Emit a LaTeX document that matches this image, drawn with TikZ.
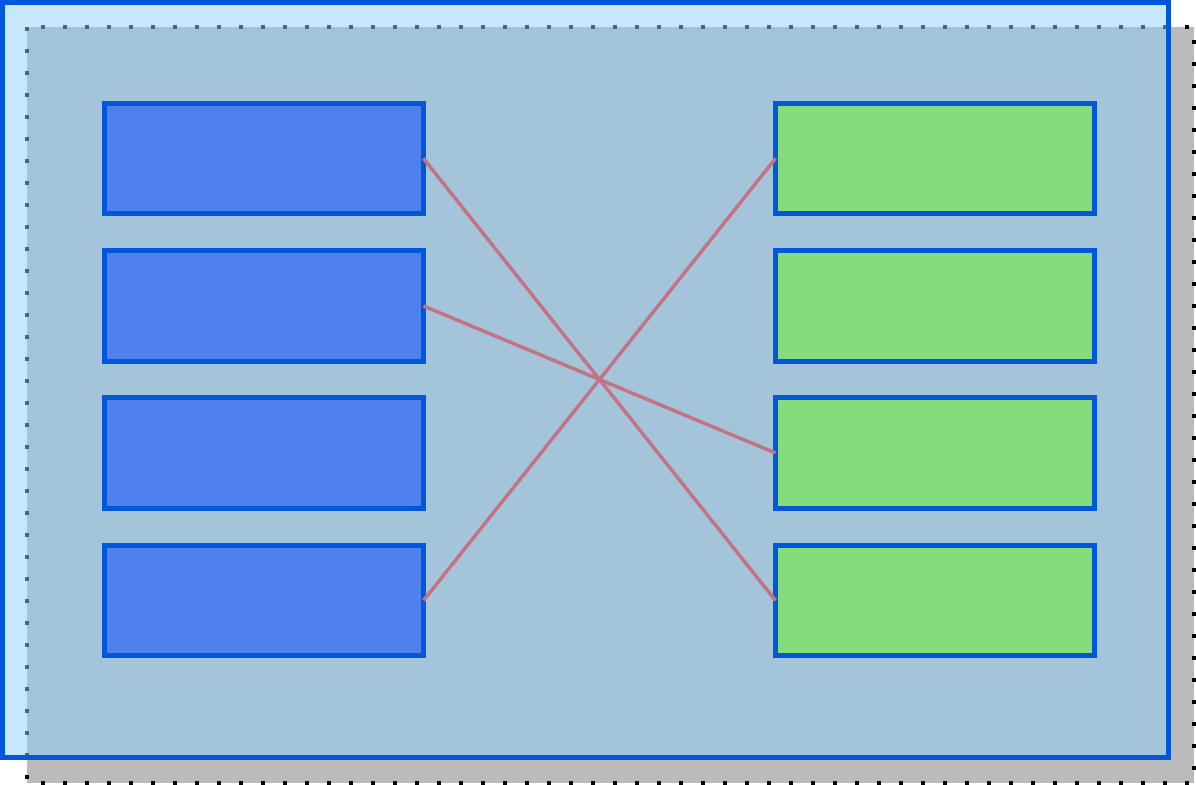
\documentclass[tikz,border=0pt]{standalone}
\usepackage{xcolor}
\usepackage{tikz}

\definecolor{frameblue}{RGB}{0,87,217}
\definecolor{boxblue}{RGB}{80,128,238}
\definecolor{boxgreen}{RGB}{133,220,123}
\definecolor{linkred}{RGB}{196,114,134}
\definecolor{shadowgrey}{RGB}{187,187,187}
\definecolor{paneblue}{RGB}{143,207,247}

\tikzset{
    srcbox/.style={draw=frameblue, fill=boxblue, line width=1mm, minimum width=63.8mm, minimum height=22mm, inner sep=0pt, outer sep=0pt},
    dstbox/.style={srcbox, fill=boxgreen},
    link/.style={draw=linkred, line width=0.7mm}
}

\begin{document}
\begin{tikzpicture}[x=0.2mm,y=-0.2mm]
            \useasboundingbox (0,0) rectangle (1196,785);
            % Shadow
            \filldraw[fill=shadowgrey, draw=black, line width=0.8mm, dash pattern=on 0.8mm off 3.6mm] (27,27) rectangle (1194,783);
            % Pane
            \filldraw[fill=paneblue, fill opacity=0.5, draw=frameblue, line width=1mm] (2.5,2.5) rectangle (1168,757);
            % Left boxes
            \node[srcbox] (l1) at (264,158.5) {};
            \node[srcbox] (l2) at (264,306) {};
            \node[srcbox] (l3) at (264,453) {};
            \node[srcbox] (l4) at (264,600.5) {};
            % Right boxes
            \node[dstbox] (r1) at (935,158.5) {};
            \node[dstbox] (r2) at (935,306) {};
            \node[dstbox] (r3) at (935,453) {};
            \node[dstbox] (r4) at (935,600.5) {};
            % Links
            \draw[link] (l1.east) -- (r4.west);
            \draw[link] (l2.east) -- (r3.west);
            \draw[link] (l4.east) -- (r1.west);
        \end{tikzpicture}
\end{document}
